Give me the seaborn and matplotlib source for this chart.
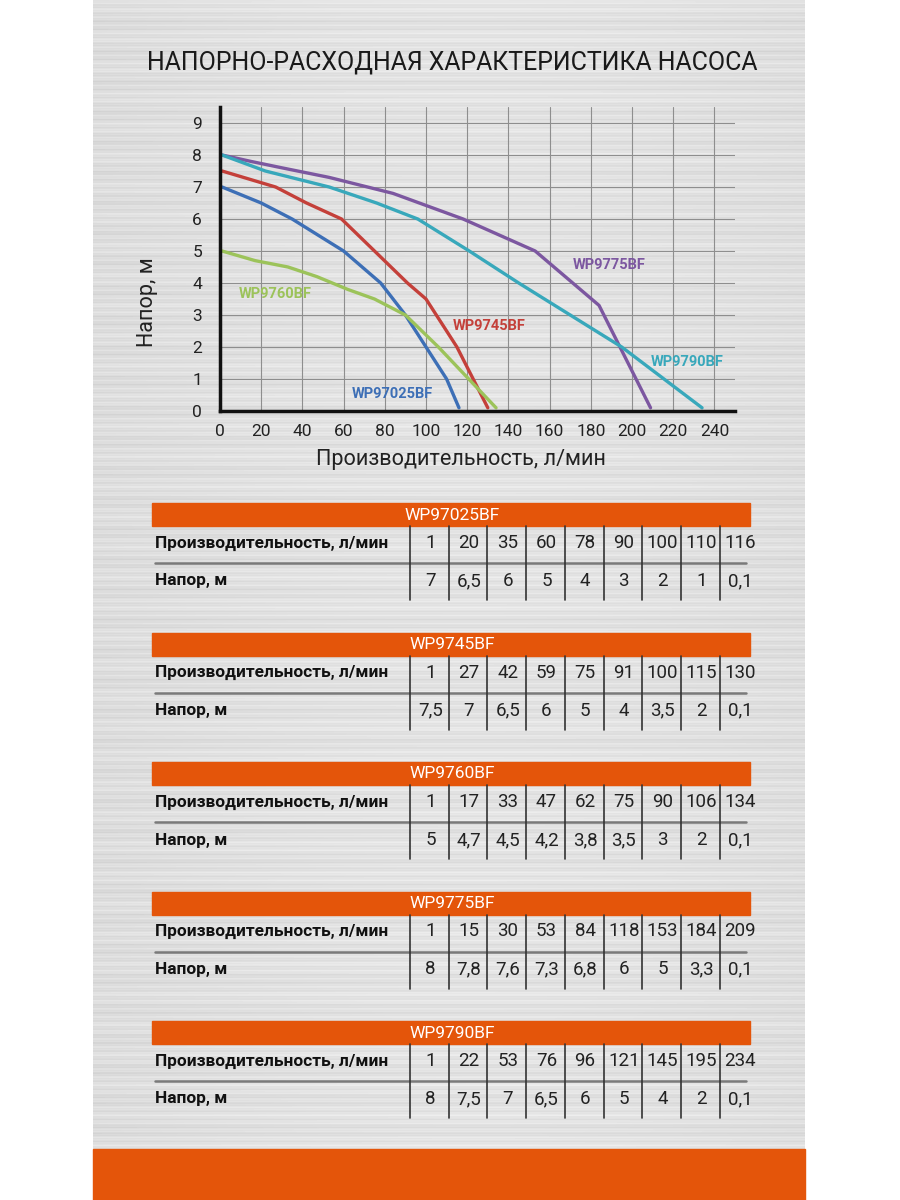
import numpy as np
import pandas as pd
import seaborn as sns
import matplotlib.pyplot as plt
from matplotlib.patches import Rectangle

models = ['WP97025BF', 'WP9745BF', 'WP9760BF', 'WP9775BF', 'WP9790BF']
flow_97025 = [1, 20, 35, 60, 78, 90, 100, 110, 116]
head_97025 = [7, 6.5, 6, 5, 4, 3, 2, 1, 0.1]
flow_9745 = [1, 27, 42, 59, 75, 91, 100, 115, 130]
head_9745 = [7.5, 7, 6.5, 6, 5, 4, 3.5, 2, 0.1]
flow_9760 = [1, 17, 33, 47, 62, 75, 90, 106, 134]
head_9760 = [5, 4.7, 4.5, 4.2, 3.8, 3.5, 3, 2, 0.1]
flow_9775 = [1, 15, 30, 53, 84, 118, 153, 184, 209]
head_9775 = [8, 7.8, 7.6, 7.3, 6.8, 6, 5, 3.3, 0.1]
flow_9790 = [1, 22, 53, 76, 96, 121, 145, 195, 234]
head_9790 = [8, 7.5, 7, 6.5, 6, 5, 4, 2, 0.1]

flows = [flow_97025, flow_9745, flow_9760, flow_9775, flow_9790]
heads = [head_97025, head_9745, head_9760, head_9775, head_9790]

colors = {'WP97025BF': '#3d6fb6', 'WP9745BF': '#c4403a', 'WP9760BF': '#9cc35a',
          'WP9775BF': '#7c57a0', 'WP9790BF': '#38a8bb'}
label_pos = {'WP97025BF': (64, 0.53), 'WP9745BF': (113, 2.66), 'WP9760BF': (9, 3.66),
             'WP9775BF': (171, 4.56), 'WP9790BF': (209, 1.53)}

rows = []
for m, f, h in zip(models, flows, heads):
    for x, y in zip(f, h):
        rows.append({'model': m, 'flow': x, 'head': y})
df = pd.DataFrame(rows)

sns.set_style('white')
plt.rcParams['font.family'] = ['Roboto', 'DejaVu Sans']

fig = plt.figure(figsize=(9, 12), dpi=100)

# background panel (pixel coords)
bg = fig.add_axes([0, 0, 1, 1])
bg.set_xlim(0, 900)
bg.set_ylim(1200, 0)
bg.axis('off')
r = np.arange(1200)[:, None]
c = np.arange(712)[None, :]
tex = (0.865 + 0.02 * np.sin(r * 0.83) + 0.015 * np.sin(r * 2.3 + 1.0)
       + 0.01 * np.sin(r * 0.21) + 0.025 * np.cos((c - 380) / 240.0))
bg.imshow(np.clip(tex, 0, 1), cmap='gray', vmin=0, vmax=1, aspect='auto',
          extent=(93, 805, 1200, 0), interpolation='bilinear')
bg.add_patch(Rectangle((93, 1149), 712, 51, color='#e4550a'))

bg.text(452, 62, 'НАПОРНО-РАСХОДНАЯ ХАРАКТЕРИСТИКА НАСОСА', ha='center', va='center',
        fontsize=17.9, color='#1a1a1a')

# tables
col_w = 38.7
for i, (m, f, h) in enumerate(zip(models, flows, heads)):
    top = 503 + 129.5 * i
    bg.add_patch(Rectangle((152, top), 598, 23, color='#e4550a'))
    bg.text(452, top + 12, m, ha='center', va='center', color='white',
            fontsize=12.5)
    bg.text(155, top + 40, 'Производительность, л/мин', ha='left', va='center',
            fontsize=12.4, fontweight='bold', color='#111')
    bg.text(155, top + 78, 'Напор, м', ha='left', va='center',
            fontsize=12.4, fontweight='bold', color='#111')
    bg.plot([155, 746], [top + 60, top + 60], color='#7a7a7a', lw=1.8)
    for j, (x, y) in enumerate(zip(f, h)):
        left = 410 + col_w * j
        bg.plot([left, left], [top + 23, top + 97], color='#333', lw=1.2)
        bg.text(left + col_w / 2 + 1, top + 40, str(x), ha='center', va='center',
                fontsize=13.5, color='#222')
        bg.text(left + col_w / 2 + 1, top + 78, str(y).replace('.', ','), ha='center',
                va='center', fontsize=13.5, color='#222')

# chart
ax = fig.add_axes([220 / 900, 1 - 411 / 1200, 515 / 900, 304 / 1200])
ax.patch.set_alpha(0)
sns.lineplot(data=df, x='flow', y='head', hue='model', palette=colors, sort=False,
             estimator=None, legend=False, lw=2.4, ax=ax)
ax.set_xlim(0, 250)
ax.set_ylim(0, 9.5)
ax.set_xticks(range(0, 241, 20))
ax.set_yticks(range(0, 10))
ax.grid(True, color='#8e8e8e', lw=0.8)
ax.set_axisbelow(True)
for s in ['top', 'right']:
    ax.spines[s].set_visible(False)
for s in ['left', 'bottom']:
    ax.spines[s].set_color('#111')
    ax.spines[s].set_linewidth(2.5)
ax.tick_params(axis='x', length=0, labelsize=12.5, colors='#222', pad=9)
ax.tick_params(axis='y', length=0, labelsize=12.5, colors='#222', pad=13)
ax.set_xlabel('Производительность, л/мин', fontsize=15.6, color='#222')
ax.set_ylabel('Напор, м', fontsize=15.6, color='#222')
ax.xaxis.set_label_coords((461 - 220) / 515, (411 - 449) / 304)
ax.yaxis.set_label_coords((158 - 220) / 515, (411 - 302) / 304)
for m in models:
    x, y = label_pos[m]
    ax.text(x, y, m, color=colors[m], fontsize=10.5, fontweight='bold', va='center')

fig.savefig('out.png', dpi=100)
